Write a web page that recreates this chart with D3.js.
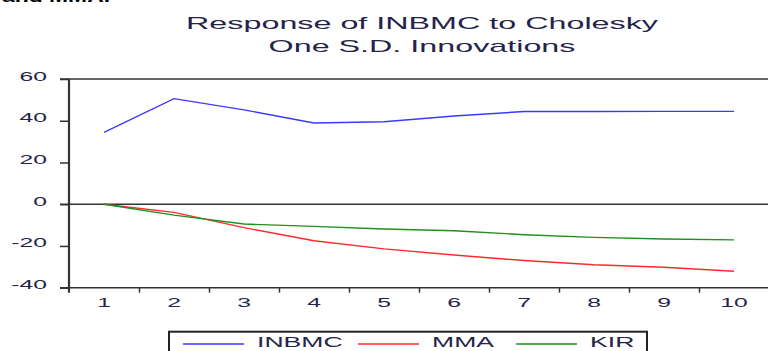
<!DOCTYPE html>
<html>
<head>
<meta charset="utf-8">
<script src="https://cdn.jsdelivr.net/npm/d3@7"></script>
<style>
  html, body { margin: 0; padding: 0; background: #fff; overflow: hidden; }
  svg { display: block; }
  text { font-family: Arial, "Liberation Sans", sans-serif; }
</style>
</head>
<body>
<svg id="chart" width="768" height="351"></svg>
<script>
// Impulse responses of INBMC over 10 periods
const periods = [1, 2, 3, 4, 5, 6, 7, 8, 9, 10];
const inbmc = [34.4, 50.6, 45.2, 38.9, 39.5, 42.3, 44.4, 44.4, 44.5, 44.5];
const mma   = [0, -3.9, -11.2, -17.5, -21.4, -24.3, -27.0, -29.0, -30.2, -32.1];
const kir   = [0, -5.2, -9.5, -10.6, -11.9, -12.7, -14.6, -15.9, -16.7, -17.1];
const yTicks = [-40, -20, 0, 20, 40, 60];
const seriesNames = ["INBMC", "MMA", "KIR"];
const seriesColors = ["#3a3aff", "#ff2a2a", "#1f8f1f"];
const titleLines = ["Response of INBMC to Cholesky", "One S.D. Innovations"];

const svg = d3.select("#chart");
const STRETCH = 1.9;
const textColor = "#24244a";
const axisColor = "#333";

const plot = { left: 69, right: 769, top: 79, bottom: 287.7 };

const x = d3.scaleBand().domain(periods).range([plot.left, plot.right]);
const xEdge = d3.scaleLinear().domain([0.5, 10.5]).range([plot.left, plot.right]);
const y = d3.scaleLinear().domain([-40, 60]).range([plot.bottom, plot.top]);
const cx = d => x(d) + x.bandwidth() / 2;

// horizontally stretched label
function stretchedText(g, str, tx, ty, size, anchor, color) {
  return g.append("text")
    .attr("transform", `translate(${tx},${ty}) scale(${STRETCH},1)`)
    .attr("text-anchor", anchor)
    .attr("font-size", size)
    .attr("fill", color || textColor)
    .text(str);
}

// text running in from above
svg.append("text")
  .attr("x", 2).attr("y", 2)
  .attr("font-family", "'Liberation Serif', 'Times New Roman', serif")
  .attr("font-weight", "bold").attr("font-size", 16)
  .attr("textLength", 108).attr("lengthAdjust", "spacingAndGlyphs")
  .attr("fill", "#000")
  .text("and MMA.");

// title
titleLines.forEach((t, i) => {
  stretchedText(svg, t, 422, 29 + i * 23, 17, "middle");
});

// y axis
const yAxis = svg.append("g")
  .attr("transform", `translate(${plot.left},0)`)
  .call(d3.axisLeft(y).tickValues(yTicks).tickSize(9).tickFormat(""));
yAxis.select(".domain").remove();
yAxis.selectAll("line").attr("stroke", axisColor).attr("stroke-width", 1.5);
yTicks.forEach(v => {
  stretchedText(svg, String(v), 47, y(v) + 1.5, 13, "end");
});

// x axis ticks at period boundaries
const xAxis = svg.append("g")
  .attr("transform", `translate(0,${plot.bottom})`)
  .call(d3.axisBottom(xEdge).tickValues(d3.range(1.5, 10, 1)).tickSize(5).tickFormat(""));
xAxis.select(".domain").remove();
xAxis.selectAll("line").attr("stroke", axisColor).attr("stroke-width", 1.5);
periods.forEach(p => {
  stretchedText(svg, String(p), cx(p), 307, 13, "middle");
});

// frame and zero line
const frame = svg.append("g").attr("stroke", axisColor).attr("stroke-width", 1.5);
frame.append("line").attr("x1", plot.left - 9).attr("x2", 768).attr("y1", y(60)).attr("y2", y(60));
frame.append("line").attr("x1", plot.left - 9).attr("x2", 768).attr("y1", y(-40)).attr("y2", y(-40));
frame.append("line").attr("x1", plot.left - 9).attr("x2", 768).attr("y1", y(0)).attr("y2", y(0));
frame.append("line").attr("x1", plot.left).attr("x2", plot.left).attr("y1", y(60)).attr("y2", y(-40) + 5)
  .attr("stroke-width", 2.2);

// response lines
const line = d3.line().x((d, i) => cx(periods[i])).y(d => y(d));
[inbmc, mma, kir].forEach((s, i) => {
  svg.append("path")
    .datum(s)
    .attr("fill", "none")
    .attr("stroke", seriesColors[i])
    .attr("stroke-width", 1.4)
    .attr("d", line);
});

// legend
const legend = svg.append("g");
legend.append("rect")
  .attr("x", 169).attr("y", 331.7).attr("width", 478).attr("height", 30)
  .attr("fill", "#fff").attr("stroke", "#222").attr("stroke-width", 2);
const legendX = [183, 358, 516];
seriesNames.forEach((n, i) => {
  legend.append("line")
    .attr("x1", legendX[i]).attr("x2", legendX[i] + 61)
    .attr("y1", 344).attr("y2", 344)
    .attr("stroke", seriesColors[i]).attr("stroke-width", 1.4);
  stretchedText(legend, n, legendX[i] + 74, 347, 14, "start");
});
</script>
</body>
</html>
